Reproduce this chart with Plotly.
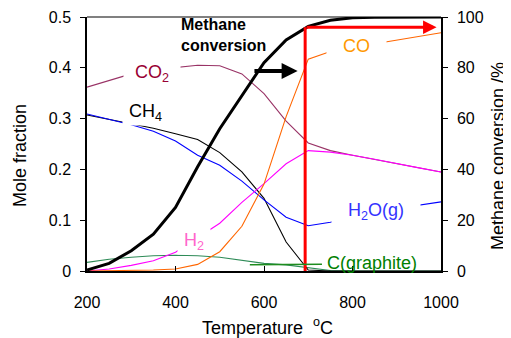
import plotly.graph_objects as go

# ---------------- data ----------------
temperature = [200, 250, 300, 350, 400, 450, 500, 550, 600, 650, 700, 750, 800, 850, 900, 950, 1000]

methane_conversion = [0.4, 3, 8, 14.5, 25, 41, 56, 69, 82, 91, 96.3, 98.7, 99.7, 99.9, 100, 100, 100]

co2 = [0.362, 0.375, 0.388, 0.396, 0.401, 0.405, 0.404, 0.388, 0.349, 0.295, 0.252, 0.237, 0.228, 0.220, 0.211, 0.203, 0.195]
ch4 = [0.307, 0.298, 0.289, 0.281, 0.270, 0.259, 0.233, 0.195, 0.143, 0.057, 0.002, 0, 0, 0, 0, 0, 0]
h2o = [0.309, 0.299, 0.288, 0.275, 0.256, 0.228, 0.208, 0.177, 0.140, 0.106, 0.089, 0.096, 0.106, 0.115, 0.123, 0.130, 0.136]
h2 = [0.0, 0.004, 0.011, 0.020, 0.037, 0.065, 0.094, 0.135, 0.172, 0.211, 0.237, 0.234, 0.228, 0.220, 0.211, 0.203, 0.195]
co = [0.0, 0.0005, 0.001, 0.002, 0.004, 0.013, 0.038, 0.088, 0.171, 0.304, 0.417, 0.432, 0.440, 0.447, 0.455, 0.462, 0.469]
graphite = [0.017, 0.023, 0.027, 0.030, 0.031, 0.030, 0.027, 0.021, 0.015, 0.012, 0.007, 0.001, 0, 0, 0, 0, 0]

# 700 degC marker (vertical line) and its horizontal arrow, in conversion units
marker_T = [693, 693]
marker_conv = [-1.2, 96]
arrow_end_T = 990

x_ticks = [200, 400, 600, 800, 1000]
y_ticks = [0, 0.1, 0.2, 0.3, 0.4, 0.5]
y_ticklabels = ["0", "0.1", "0.2", "0.3", "0.4", "0.5"]
y2_ticks = [0, 20, 40, 60, 80, 100]

FONT = "Liberation Sans, Arial, sans-serif"

# the page body has an 8px default margin; plot area target: x 87..441, y 17..271
OFF = 8
PL, PT, PW, PH = 87 - OFF, 17 - OFF, 354, 254
FIG_W, FIG_H = 511 - OFF, 338 - OFF

fig = go.Figure()

series = [
    (graphite, "#2E8B57", "C(graphite)"),
    (co2, "#993366", "CO2"),
    (ch4, "#000000", "CH4"),
    (h2o, "#0000FF", "H2O"),
    (h2, "#FF00FF", "H2"),
    (co, "#FF6600", "CO"),
]
for vals, col, name in series:
    fig.add_trace(go.Scatter(x=temperature, y=vals, mode="lines", name=name,
                             line=dict(color=col, width=1.1), yaxis="y"))

fig.add_trace(go.Scatter(x=temperature, y=methane_conversion, mode="lines",
                         name="Methane conversion", line=dict(color="black", width=3),
                         yaxis="y2", cliponaxis=False))

fig.add_trace(go.Scatter(x=marker_T, y=marker_conv, mode="lines",
                         line=dict(color="#FF0000", width=3), yaxis="y2",
                         cliponaxis=False))

annotations = []

def label(text, x, y, color, bg=True, size=18):
    annotations.append(dict(x=x, y=y, xref="x", yref="y", text=text, showarrow=False,
                            font=dict(family=FONT, size=size, color=color),
                            bgcolor="white" if bg else "rgba(0,0,0,0)",
                            borderpad=1, xanchor="center", yanchor="middle"))

label("  CO<sub>2</sub>  ", 347, 0.388, "#990033")
label(" CH<sub>4</sub> ", 333, 0.313, "#000000")
label("   CO   ", 810, 0.443, "#FF9900")
label("   H<sub>2</sub>O(g)   ", 853, 0.118, "#3333FF")
label(" H<sub>2</sub> ", 442, 0.059, "#FF66CC")
label("C(graphite)", 844, 0.016, "#008000", bg=False)

# red horizontal arrow
annotations.append(dict(x=arrow_end_T, y=marker_conv[1], xref="x", yref="y2",
                        ax=marker_T[1], ay=marker_conv[1], axref="x", ayref="y2",
                        text="", showarrow=True, arrowhead=2, arrowsize=0.9,
                        arrowwidth=3, arrowcolor="#FF0000", standoff=0, startstandoff=0))
# black arrow pointing at the conversion curve label
annotations.append(dict(x=676, y=78.7, xref="x", yref="y2",
                        ax=575, ay=78.7, axref="x", ayref="y2",
                        text="", showarrow=True, arrowhead=2, arrowsize=0.8,
                        arrowwidth=4, arrowcolor="#000000", standoff=0, startstandoff=0))
annotations.append(dict(x=(179 - 87) / PW, y=1.01, xref="paper", yref="paper",
                        text="<b>Methane<br>conversion</b>", showarrow=False, align="left",
                        xanchor="left", yanchor="top",
                        font=dict(family=FONT, size=16, color="black")))

# axis titles
annotations.append(dict(x=(20 - 87) / PW, y=(271 - 156) / PH, xref="paper", yref="paper",
                        text="Mole fraction", showarrow=False, textangle=-90,
                        xanchor="center", yanchor="middle",
                        font=dict(family=FONT, size=18, color="black")))
annotations.append(dict(x=(498 - 87) / PW, y=(271 - 156) / PH, xref="paper", yref="paper",
                        text="Methane conversion /%", showarrow=False, textangle=-90,
                        xanchor="center", yanchor="middle",
                        font=dict(family=FONT, size=18, color="black")))
annotations.append(dict(x=(267 - 87) / PW, y=(271 - 326) / PH, xref="paper", yref="paper",
                        text="Temperature  <sup>o</sup>C", showarrow=False,
                        xanchor="center", yanchor="middle",
                        font=dict(family=FONT, size=18, color="black")))

shapes = [
    dict(type="line", xref="paper", yref="paper", x0=0, x1=1, y0=1, y1=1,
         line=dict(color="#808080", width=2), layer="below"),
    dict(type="line", xref="x", yref="y", x0=568, x1=731, y0=0.0125, y1=0.0135,
         line=dict(color="#1E8C1E", width=1.5)),
]

fig.update_layout(
    width=FIG_W, height=FIG_H,
    margin=dict(l=PL, r=FIG_W - PL - PW, t=PT, b=FIG_H - PT - PH, autoexpand=False),
    paper_bgcolor="white", plot_bgcolor="white",
    showlegend=False,
    font=dict(family=FONT, size=16, color="black"),
    xaxis=dict(range=[200, 1000], tickvals=x_ticks, showline=True, linecolor="black",
               linewidth=1.5, ticks="inside", ticklen=5, tickcolor="black", tickwidth=1,
               showgrid=False, zeroline=False, ticklabelstandoff=16,
               tickfont=dict(family=FONT, size=16, color="black")),
    yaxis=dict(range=[0, 0.5], tickvals=y_ticks, ticktext=y_ticklabels, showline=True,
               linecolor="black", linewidth=1.5, ticks="outside", ticklen=5,
               tickcolor="black", showgrid=False, zeroline=False, ticklabelstandoff=6,
               tickfont=dict(family=FONT, size=16, color="black")),
    yaxis2=dict(range=[0, 100], tickvals=y2_ticks, overlaying="y", side="right",
                showline=True, linecolor="black", linewidth=1.5, ticks="outside",
                ticklen=5, tickcolor="black", showgrid=False, zeroline=False,
                ticklabelstandoff=6,
                tickfont=dict(family=FONT, size=16, color="black")),
    annotations=annotations,
    shapes=shapes,
)

fig.write_html("out.html")
